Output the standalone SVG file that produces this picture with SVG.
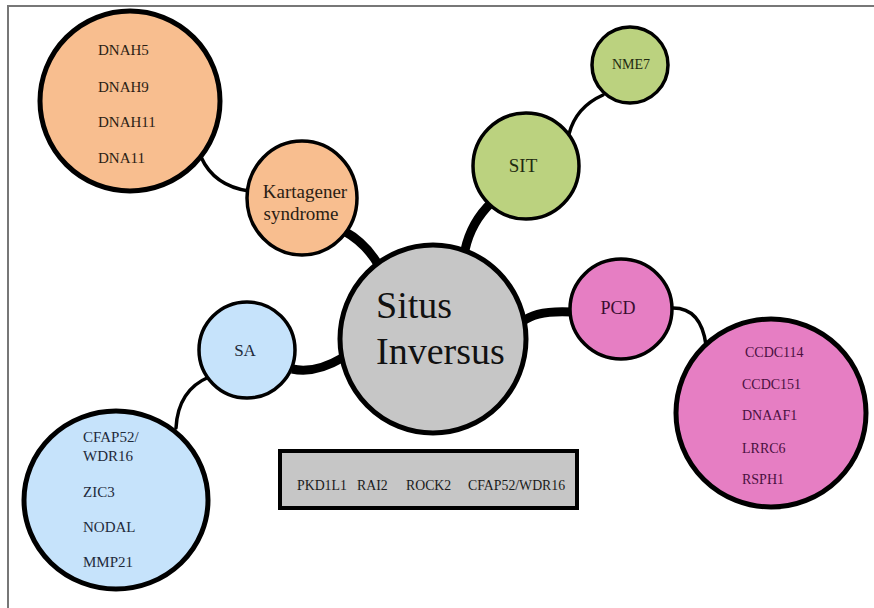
<svg xmlns="http://www.w3.org/2000/svg" width="874" height="608" viewBox="0 0 874 608">
<style>
  text { font-family: "Liberation Serif", "Times New Roman", serif; }
  .big { stroke: #000; stroke-width: 5; }
  .small { stroke: #000; stroke-width: 3.5; }
  .or { fill: #f8be8f; }
  .gr { fill: #bbd27f; }
  .pk { fill: #e67ec3; }
  .bl { fill: #c6e3fb; }
  .gy { fill: #c6c6c6; }
  .thin { fill: none; stroke: #000; stroke-width: 3.5; stroke-linecap: round; }
  .thick { fill: none; stroke: #000; stroke-width: 9; stroke-linecap: butt; }
  .t15 { font-size: 15px; fill: #2b1d14; }
  .tp { font-size: 14px; fill: #4a1040; }
  .tb { font-size: 15px; fill: #1e2a3a; }
  .tr { font-size: 13.8px; fill: #1a1a1a; }
</style>
<rect x="0" y="0" width="874" height="608" fill="#ffffff"/>
<path d="M8,608 V6 H874" fill="none" stroke="#777" stroke-width="2"/>

<g id="connectors">
  <path class="thin" d="M201,157 Q214,186 249,191"/>
  <path class="thick" d="M344,231 Q366,243 379,266"/>
  <path class="thin" d="M603,95 Q576,107 569,134"/>
  <path class="thick" d="M492,202 Q471,222 465,250"/>
  <path class="thick" d="M522,322 Q536,310 572,312"/>
  <path class="thin" d="M673,308 Q701,308 706,345"/>
  <path class="thick" d="M292,369 Q315,374 342,358"/>
  <path class="thin" d="M209,377 Q178,390 176,428"/>
</g>

<g id="dnah-genes">
  <ellipse class="or big" cx="130" cy="101" rx="90" ry="90"/>
  <text class="t15" x="98" y="55">DNAH5</text>
  <text class="t15" x="98" y="92">DNAH9</text>
  <text class="t15" x="98" y="127">DNAH11</text>
  <text class="t15" x="98" y="163">DNA11</text>
</g>

<g id="kartagener">
  <ellipse class="or small" cx="302" cy="198" rx="55" ry="57"/>
  <text x="305" y="198" font-size="19" text-anchor="middle" fill="#2b1d14">Kartagener</text>
  <text x="301" y="220" font-size="19" text-anchor="middle" fill="#2b1d14">syndrome</text>
</g>

<g id="nme7">
  <ellipse class="gr small" cx="630" cy="65" rx="38" ry="38" stroke-width="3"/>
  <text x="631" y="69" font-size="14" text-anchor="middle" fill="#1f2a10">NME7</text>
</g>

<g id="sit">
  <ellipse class="gr small" cx="526" cy="166" rx="53" ry="53"/>
  <text x="523" y="172" font-size="19" text-anchor="middle" fill="#1f2a10">SIT</text>
</g>

<g id="situs-inversus">
  <ellipse class="gy big" cx="433" cy="339" rx="93" ry="94"/>
  <text x="376" y="318" font-size="38" fill="#111">Situs</text>
  <text x="376" y="364" font-size="38" fill="#111">Inversus</text>
</g>

<g id="pcd">
  <ellipse class="pk small" cx="621" cy="309" rx="51" ry="50"/>
  <text x="618" y="314" font-size="18" text-anchor="middle" fill="#3a0d30">PCD</text>
</g>

<g id="pcd-genes">
  <ellipse class="pk big" cx="771" cy="413" rx="95" ry="94"/>
  <text class="tp" x="745" y="357">CCDC114</text>
  <text class="tp" x="742" y="389">CCDC151</text>
  <text class="tp" x="742" y="420">DNAAF1</text>
  <text class="tp" x="742" y="453">LRRC6</text>
  <text class="tp" x="742" y="484">RSPH1</text>
</g>

<g id="sa">
  <ellipse class="bl small" cx="247" cy="350" rx="48" ry="48" stroke-width="3"/>
  <text x="245" y="356" font-size="17" text-anchor="middle" fill="#1e2a3a">SA</text>
</g>

<g id="sa-genes">
  <ellipse class="bl big" cx="116" cy="500" rx="92" ry="89"/>
  <text class="tb" x="83" y="442">CFAP52/</text>
  <text class="tb" x="83" y="461">WDR16</text>
  <text class="tb" x="83" y="497">ZIC3</text>
  <text class="tb" x="83" y="532">NODAL</text>
  <text class="tb" x="83" y="567">MMP21</text>
</g>

<g id="gene-box">
  <rect x="280" y="451" width="297" height="57" fill="#c6c6c6" stroke="#000" stroke-width="4"/>
  <text class="tr" x="297" y="490">PKD1L1</text>
  <text class="tr" x="357" y="490">RAI2</text>
  <text class="tr" x="406" y="490">ROCK2</text>
  <text class="tr" x="468" y="490">CFAP52/WDR16</text>
</g>
</svg>
